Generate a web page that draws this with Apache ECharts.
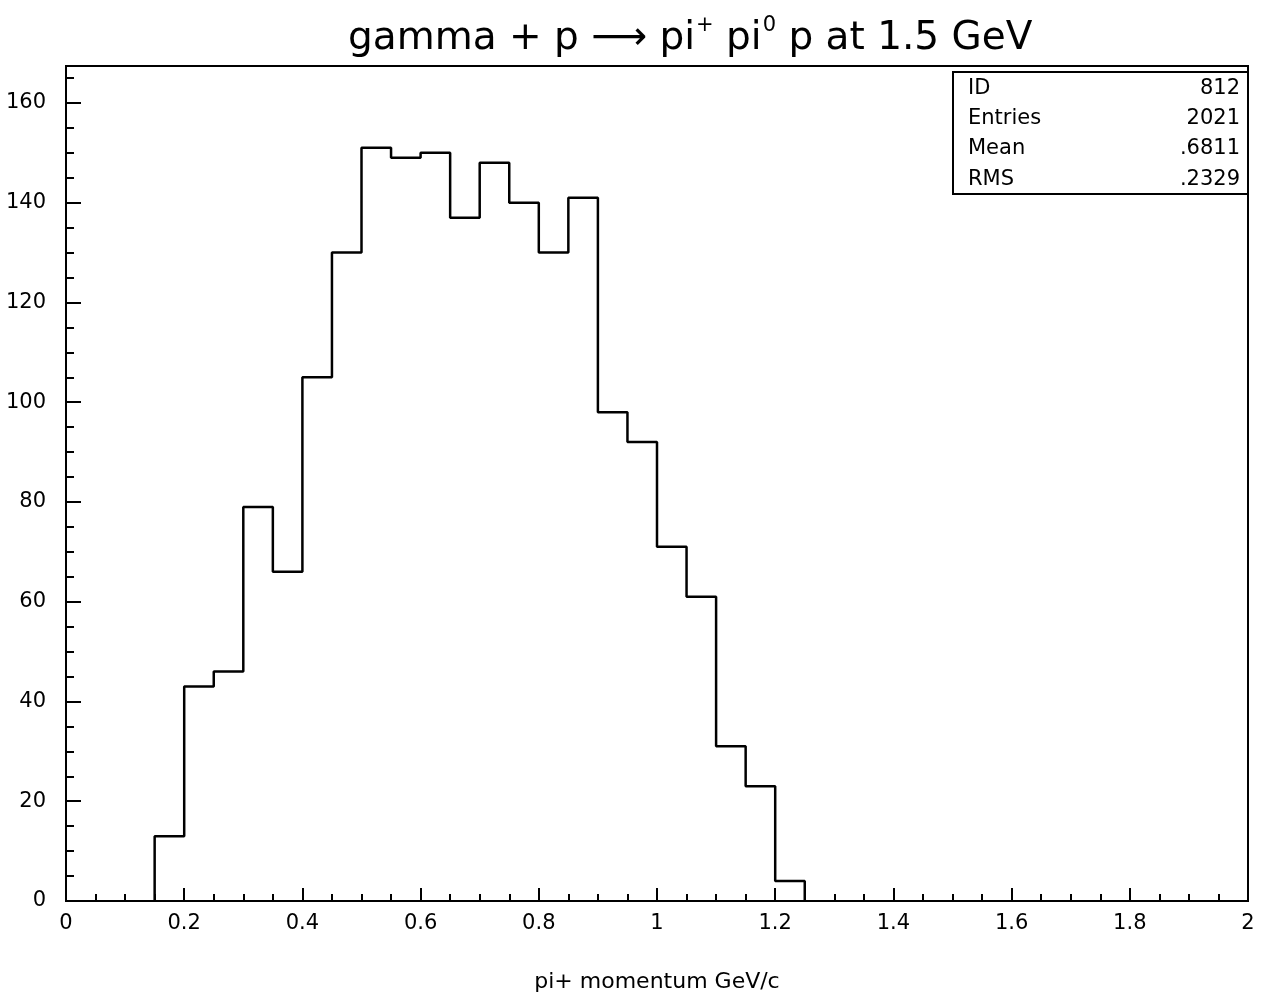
<!DOCTYPE html>
<html>
<head>
<meta charset="utf-8">
<script src="https://cdn.jsdelivr.net/npm/echarts@6/dist/echarts.min.js"></script>
<style>
html,body{margin:0;padding:0;background:#fff;}
#chart{width:1265px;height:998px;}
</style>
</head>
<body>
<div id="chart"></div>
<script>
// Histogram data: bin lower edges (GeV/c) and counts
const binLow = [0.15,0.20,0.25,0.30,0.35,0.40,0.45,0.50,0.55,0.60,0.65,0.70,0.75,0.80,0.85,0.90,0.95,1.00,1.05,1.10,1.15,1.20];
const binHigh = 1.25;
const counts = [13,43,46,79,66,105,130,151,149,150,137,148,140,130,141,98,92,71,61,31,23,4];
// Statistics box
const statNames = ['ID','Entries','Mean','RMS'];
const statValues = ['812','2021','.6811','.2329'];

const FONT = 'DejaVu Sans';

// step-line points (library scales place them)
const pts = [[binLow[0], 0]];
for (let i = 0; i < binLow.length; i++) pts.push([binLow[i], counts[i]]);
pts.push([binHigh, 0]);

const chart = echarts.init(document.getElementById('chart'));

const L = 66, R = 1248, T = 66, B = 902;

const graphics = [
  {type:'rect', shape:{x:953, y:72, width:R-953, height:122}, style:{fill:'#fff', stroke:'#000', lineWidth:2}, z:100}
];
const rowY = [89, 119, 149, 180];
statNames.forEach((n,i)=>{
  graphics.push({type:'text', x:968, y:rowY[i], style:{text:n, font:'21px "DejaVu Sans"', fill:'#000', textVerticalAlign:'middle', textAlign:'left'}, z:101});
  graphics.push({type:'text', x:1240, y:rowY[i], style:{text:statValues[i], font:'21px "DejaVu Sans"', fill:'#000', textVerticalAlign:'middle', textAlign:'right'}, z:101});
});

chart.setOption({
  animation:false,
  backgroundColor:'#fff',
  title:{
    text:'{a|gamma + p ⟶ pi}{s|+}{a| pi}{s|0}{a| p at 1.5 GeV}',
    left:343, top:10,
    textStyle:{
      fontWeight:'normal',
      rich:{
        a:{fontFamily:FONT, fontSize:39, fontWeight:'normal', color:'#000', lineHeight:48},
        s:{fontFamily:FONT, fontSize:21, fontWeight:'normal', color:'#000', verticalAlign:'top', lineHeight:48, padding:[0,0,0,1]}
      }
    }
  },
  grid:{left:L, right:1265-R, top:T, bottom:998-B, show:true, borderColor:'#000', borderWidth:2, backgroundColor:'transparent'},
  xAxis:{
    type:'value', min:0, max:2, interval:0.2,
    name:'pi+ momentum GeV/c', nameLocation:'middle', nameGap:70,
    nameTextStyle:{fontFamily:FONT, fontSize:22, color:'#000'},
    axisLine:{show:true, lineStyle:{color:'#000', width:2}},
    axisTick:{show:true, inside:true, length:13, lineStyle:{color:'#000', width:2}},
    minorTick:{show:true, splitNumber:4, length:7, lineStyle:{color:'#000', width:2}},
    splitLine:{show:false}, minorSplitLine:{show:false},
    axisLabel:{fontFamily:FONT, fontSize:21, color:'#000', margin:12}
  },
  yAxis:[
    {
      type:'value', min:0, max:167.4, interval:20,
      axisLine:{show:true, lineStyle:{color:'#000', width:2}},
      axisTick:{show:true, inside:true, length:15, lineStyle:{color:'#000', width:2}},
      splitLine:{show:false},
      axisLabel:{fontFamily:FONT, fontSize:21, color:'#000', margin:20, showMaxLabel:false}
    },
    {
      type:'value', min:0, max:167.4, interval:5, position:'left',
      axisLine:{show:true, lineStyle:{color:'#000', width:2}},
      axisTick:{show:true, inside:true, length:8, lineStyle:{color:'#000', width:2}},
      splitLine:{show:false},
      axisLabel:{show:false}
    }
  ],
  series:[{
    type:'line', step:'end', data:pts, yAxisIndex:0,
    symbol:'none', lineStyle:{color:'#000', width:2.5}, silent:true
  }],
  graphic:graphics
});
</script>
</body>
</html>
